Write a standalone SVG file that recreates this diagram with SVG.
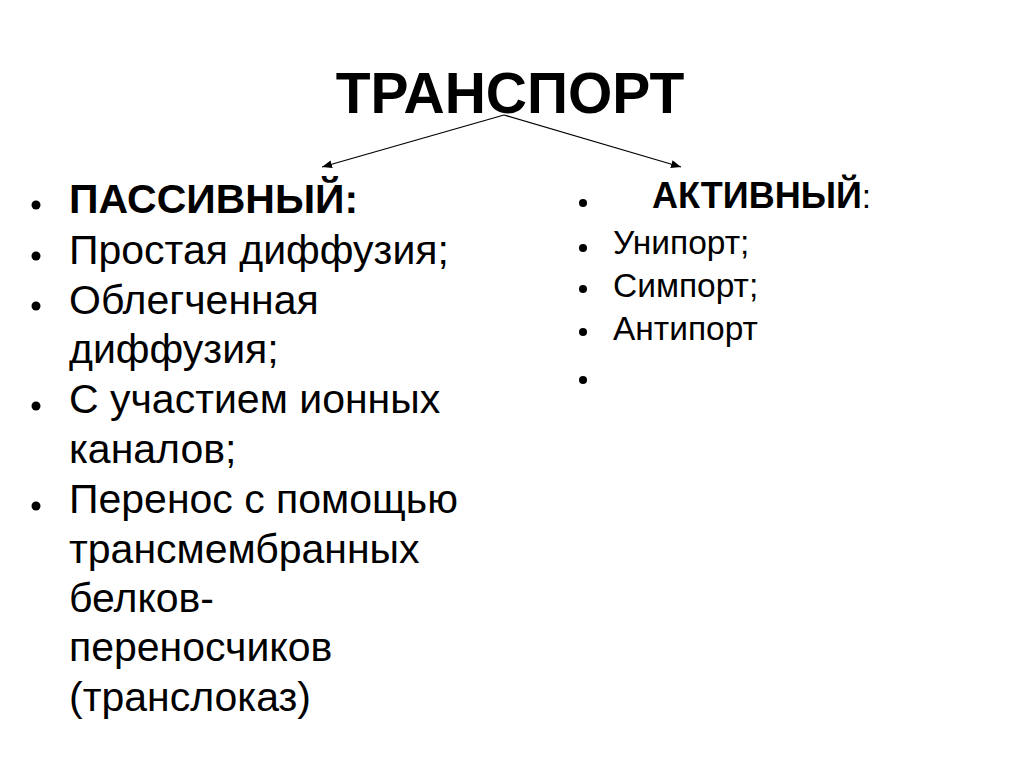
<svg xmlns="http://www.w3.org/2000/svg" width="1024" height="767" viewBox="0 0 1024 767">
<style>
.t{font-family:"Liberation Sans",Arial,sans-serif;fill:#000}
.title{font-size:57px;font-weight:bold}
.l{font-size:41px}
.r{font-size:33.5px}
.b{font-weight:bold}
.conn{stroke:#000;stroke-width:1.3;fill:none}
</style>
<defs>
<marker id="ah" viewBox="0 0 10 8" refX="10" refY="4" markerWidth="10" markerHeight="8" markerUnits="userSpaceOnUse" orient="auto">
<path d="M0,0 L10,4 L0,8 Z" fill="#000"/>
</marker>
</defs>
<rect width="1024" height="767" fill="#fff"/>
<g id="title">
<text class="t title" x="510" y="113" text-anchor="middle">ТРАНСПОРТ</text>
</g>
<g id="connectors">
<line class="conn" x1="504" y1="115" x2="322" y2="167" marker-end="url(#ah)"/>
<line class="conn" x1="504" y1="115" x2="681" y2="167" marker-end="url(#ah)"/>
</g>
<g id="passive">
<circle cx="36" cy="205" r="4.5"/>
<circle cx="36" cy="256" r="4.5"/>
<circle cx="36" cy="306" r="4.5"/>
<circle cx="36" cy="406" r="4.5"/>
<circle cx="36" cy="506" r="4.5"/>
<text class="t l b" x="69" y="213">ПАССИВНЫЙ:</text>
<text class="t l" x="69" y="264">Простая диффузия;</text>
<text class="t l" x="69" y="314">Облегченная</text>
<text class="t l" x="69" y="363">диффузия;</text>
<text class="t l" x="69" y="413">С участием ионных</text>
<text class="t l" x="69" y="463">каналов;</text>
<text class="t l" x="69" y="513">Перенос с помощью</text>
<text class="t l" x="69" y="563">трансмембранных</text>
<text class="t l" x="69" y="612">белков-</text>
<text class="t l" x="69" y="661">переносчиков</text>
<text class="t l" x="69" y="711">(транслоказ)</text>
</g>
<g id="active">
<circle cx="583" cy="203" r="4"/>
<circle cx="583" cy="248" r="4"/>
<circle cx="583" cy="289" r="4"/>
<circle cx="583" cy="332" r="4"/>
<circle cx="583" cy="380" r="4"/>
<text class="t r" x="652" y="208"><tspan class="b" font-size="36">АКТИВНЫЙ</tspan>:</text>
<text class="t r" x="613" y="254">Унипорт;</text>
<text class="t r" x="613" y="297">Симпорт;</text>
<text class="t r" x="613" y="340">Антипорт</text>
</g>
</svg>
